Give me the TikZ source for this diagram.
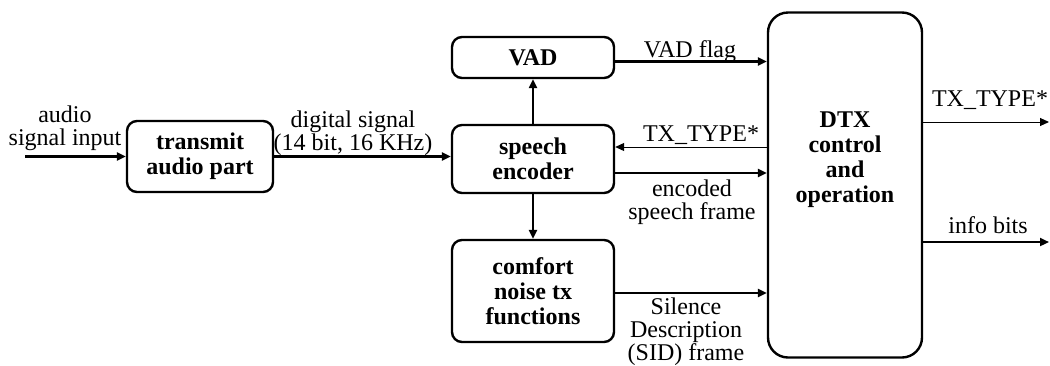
\documentclass[tikz,border=0pt]{standalone}
\usepackage{fontspec}
\setmainfont{Liberation Serif}
\usetikzlibrary{arrows.meta,calc}
\tikzset{
	block diagram/.style={
		x=0.5pt, y=-0.5pt,
		font=\fontsize{12}{11.5}\selectfont,
		>={Triangle[length=4.5pt,width=4pt]},
		ar/.style={draw,->,line width=1.1pt},
		ar thin/.style={draw,->,line width=0.5pt},
		lbl/.style={align=center,inner sep=0pt}
		},
	blk font/.style={font=\bfseries\fontsize{12}{12.5}\selectfont},
	blk/.style 2 args={
		draw, line width=1.2pt, rounded corners=5pt,
		minimum width=#1, minimum height=#2,
		inner sep=0pt, align=center, blk font}
}

\begin{document}
\begin{tikzpicture}[block diagram]
  \useasboundingbox (0,0) rectangle (1050,365);
  \node[blk={73pt}{35.5pt}] (tap) at (200,156.5) {transmit\\audio part};
  \node[blk={81pt}{20.5pt}] (vad) at (533,57.5) {VAD};
  \node[blk={81pt}{34pt}] (enc) at (533,159) {speech\\encoder};
  \node[blk={81pt}{51pt}] (cn) at (533,291) {comfort\\noise tx\\functions};
  \node[blk={77pt}{172.5pt}, rounded corners=10pt,
        label={[lbl,blk font,yshift=12.5pt]center:{DTX\\control\\and\\operation}}] (dtx) at (845,185) {};
  \coordinate (in) at (25,156.5);
  \coordinate (out1) at (1049,122);
  \coordinate (out2) at (1049,242);
  % signal path
  \draw[ar] (in) -- (tap);
  \draw[ar] (tap.east) -- (tap.east -| enc.west);
  \draw[ar] (enc) -- (vad);
  \draw[ar] (enc) -- (cn);
  \draw[ar] ([yshift=-2pt]vad.east) -- ([yshift=-2pt]vad.east -| dtx.west);
  \draw[ar thin] ([yshift=6pt]enc.east -| dtx.west) -- ([yshift=6pt]enc.east);
  \draw[ar] ([yshift=-7pt]enc.east) -- ([yshift=-7pt]enc.east -| dtx.west);
  \draw[ar] ([yshift=-1pt]cn.east) -- ([yshift=-1pt]cn.east -| dtx.west);
  \draw[ar thin] (dtx.east |- out1) -- (out1);
  \draw[ar] (dtx.east |- out2) -- (out2);
  % labels
  \node[lbl] (lin) at (65,128) {audio\\signal input};
  \node[lbl] (ldig) at (353,133) {digital signal\\(14 bit, 16 KHz)};
  \node[lbl] (lvad) at (690,52) {VAD flag};
  \node[lbl] (ltx) at (701,135) {TX\_TYPE*};
  \node[lbl] (lenc) at (692,202) {encoded\\speech frame};
  \node[lbl] (lsid) at (686,332) {Silence\\Description\\(SID) frame};
  \node[lbl] (ltxo) at (990,100) {TX\_TYPE*};
  \node[lbl] (linfo) at (988,225) {info bits};
\end{tikzpicture}
\end{document}
